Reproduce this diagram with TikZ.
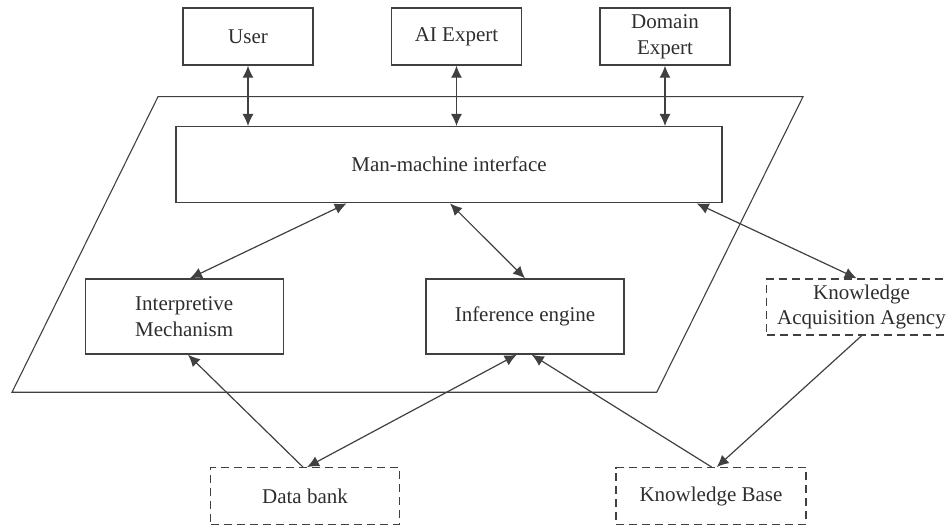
\documentclass[tikz,border=0pt]{standalone}
\usepackage{fontspec}
\setmainfont{Liberation Serif}
\usetikzlibrary{arrows.meta,calc}
\definecolor{ink}{HTML}{404040}
\definecolor{txt}{HTML}{2E2E2E}
\begin{document}
\begin{tikzpicture}[x=1pt,y=-1pt,
  every node/.style={font=\fontsize{21}{25.7}\selectfont, text=txt, align=center, inner sep=0pt},
  solidbox/.style={draw=ink, line width=1.4pt, rectangle},
  dashbox/.style={draw=ink, line width=1.3pt, rectangle, dash pattern=on 8pt off 5pt},
  link/.style={draw=ink, line width=1.2pt},
  tip/.tip={Latex[length=12pt,width=11pt]},
  both/.style={link, tip-tip},
  fwd/.style={link, -tip}]
\useasboundingbox (0,0) rectangle (948,526);

% system boundary
\draw[ink, line width=1.1pt] (158,96.7) -- (803,96.7) -- (656.7,392.3) -- (12,392.3) -- cycle;

% actors
\node[solidbox, minimum width=130pt, minimum height=57pt] (usr) at (248,36.5) {User};
\node[solidbox, minimum width=130pt, minimum height=57pt] (aie) at (456.5,36.5) {AI Expert};
\node[solidbox, minimum width=130pt, minimum height=57pt] (dom) at (665,36.5) {Domain\\Expert};

% system components
\node[solidbox, minimum width=546pt, minimum height=76pt] (mmi) at (449,164.7) {Man-machine interface};
\node[solidbox, minimum width=198pt, minimum height=75pt] (imech) at (184.2,316.5) {Interpretive\\Mechanism};
\node[solidbox, minimum width=198pt, minimum height=75pt] (inf) at (525,316.5) {Inference engine};

% external components
\node[dashbox, minimum width=190pt, minimum height=56pt] (kaa) at (861.5,307) {Knowledge\\Acquisition Agency};
\node[dashbox, minimum width=189pt, minimum height=56.5pt] (db) at (305,496) {Data bank};
\node[dashbox, minimum width=190pt, minimum height=56.5pt] (kb) at (711,496) {Knowledge Base};

% actor links
\draw[both] (usr.south) -- (usr.south |- mmi.north);
\draw[both] (aie.south) -- (aie.south |- mmi.north);
\draw[both] (dom.south) -- (dom.south |- mmi.north);

% interface links
\draw[both] ([xshift=-102.3pt]mmi.south) -- ([xshift=5.8pt]imech.north);
\draw[both] ([xshift=1pt]mmi.south) -- (inf.north);
\draw[both] ([xshift=247.7pt]mmi.south) -- ([xshift=-4.8pt]kaa.north);

% data and knowledge flows
\draw[fwd] ([xshift=-2pt]db.north) -- ([xshift=3.8pt]imech.south);
\draw[both] ([xshift=-8.3pt]inf.south) -- ([xshift=2pt]db.north);
\draw[fwd] ([xshift=0.7pt]kb.north) -- ([xshift=6.7pt]inf.south);
\draw[fwd] ([xshift=0.2pt]kaa.south) -- ([xshift=5.7pt]kb.north);
\end{tikzpicture}
\end{document}
